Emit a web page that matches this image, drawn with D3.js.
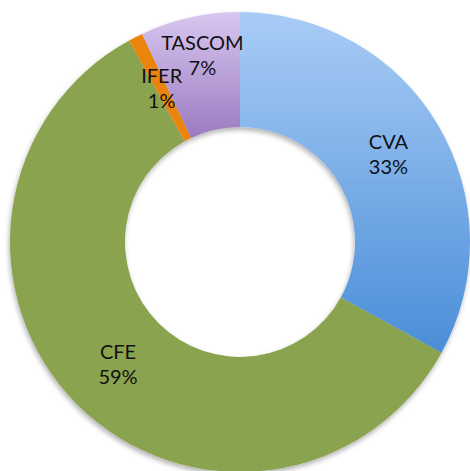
<!DOCTYPE html>
<html>
<head>
<meta charset="utf-8">
<script src="https://cdn.jsdelivr.net/npm/d3@7"></script>
<style>
  body { margin: 0; background: #fff; }
  svg { display: block; }
</style>
</head>
<body>
<svg id="chart" width="470" height="471"></svg>
<script>
// data
const categories = [ "CVA", "CFE", "IFER", "TASCOM" ];
const shares     = [ 33, 59, 1, 7 ];            // percent
const labelShift = [ 0, 0, 0, -19 ];            // excel nudges TASCOM label up

// colours: [top, bottom] of each slice's gradient
const colors = [ [ "#a9ccf6", "#4a8ed8" ],
                 [ "#8aa34f", "#8aa34f" ],
                 [ "#ea840e", "#ea840e" ],
                 [ "#d8c7f0", "#9b7bc0" ] ];

window.addEventListener( "load", makeDonut );
function makeDonut() {
    var svg = d3.select( "#chart" );
    var cx = 240, cy = 242, R = 230, r = 115;

    var defs = svg.append( "defs" );
    var sh = defs.append( "filter" ).attr( "id", "shadow" )
        .attr( "x", "-10%" ).attr( "y", "-10%" )
        .attr( "width", "120%" ).attr( "height", "120%" );
    sh.append( "feDropShadow" )
        .attr( "dx", -1 ).attr( "dy", 3 ).attr( "stdDeviation", 2.5 )
        .attr( "flood-color", "#000" ).attr( "flood-opacity", 0.3 );

    colors.forEach( (c, i) => {
        var g = defs.append( "linearGradient" ).attr( "id", "grad" + i )
            .attr( "x1", 0 ).attr( "y1", 0 ).attr( "x2", 0 ).attr( "y2", 1 );
        g.append( "stop" ).attr( "offset", "0%" ).attr( "stop-color", c[0] );
        g.append( "stop" ).attr( "offset", "100%" ).attr( "stop-color", c[1] );
    } );

    var data = categories.map( (d, i) => ({ name: d, val: shares[i], i: i }) );

    var pie = d3.pie().value( d => d.val ).sort( null );
    var arc = d3.arc().innerRadius( r ).outerRadius( R );
    var lab = d3.arc().innerRadius( (R+r)/2 ).outerRadius( (R+r)/2 );

    var g = svg.append( "g" ).attr( "transform", `translate(${cx},${cy})` );

    g.append( "g" ).attr( "filter", "url(#shadow)" )
        .selectAll( "path" ).data( pie( data ) ).enter().append( "path" )
        .attr( "d", arc )
        .attr( "fill", d => `url(#grad${d.data.i})` );

    var total = d3.sum( shares );
    var txt = g.selectAll( "text" ).data( pie( data ) ).enter().append( "text" )
        .attr( "transform", d => {
            var p = lab.centroid( d );
            return `translate(${p[0]},${p[1] + labelShift[d.data.i]})`;
        } )
        .attr( "text-anchor", "middle" )
        .attr( "font-family", "Lato, 'Open Sans', sans-serif" )
        .attr( "font-size", 20 ).attr( "fill", "#111" );

    txt.append( "tspan" ).attr( "x", 0 ).attr( "dy", -5 )
        .text( d => d.data.name );
    txt.append( "tspan" ).attr( "x", 0 ).attr( "dy", 25 )
        .text( d => Math.round( 100*d.data.val/total ) + "%" );
}
</script>
</body>
</html>
